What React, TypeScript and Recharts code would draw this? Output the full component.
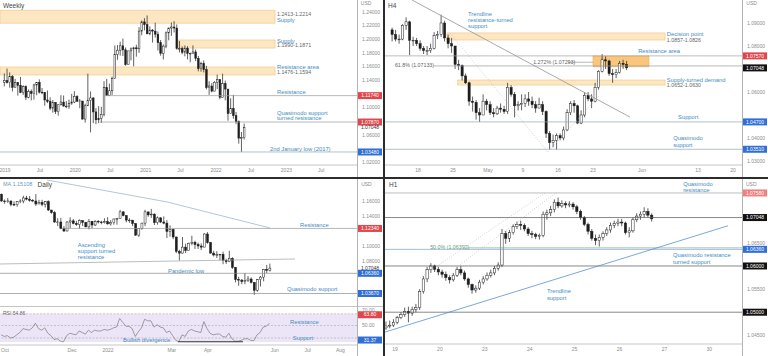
import React from 'react';
import { ComposedChart, Bar, Line, XAxis, YAxis, ReferenceLine, ReferenceArea, ReferenceDot } from 'recharts';

const FONT = '"Liberation Sans", Arial, sans-serif';
const TEAL = '#3f8cc2';
const NUM = '#666';
const AXIS = '#8c8c8c';
const RED = '#e0474c';
const BLUE = '#2f6fd6';
const ZONE = '#fde6c2';
const ZONE_EDGE = '#f1c27c';

// ---- Weekly (2-week candles, Dec 2018 - May 2022)
const wClose = [1.1395,1.1365,1.1455,1.1295,1.1365,1.1325,1.1220,1.1305,1.1150,1.1235,1.1205,1.1330,1.1370,1.1225,1.1220,1.1110,1.1090,1.0990,1.1075,1.0940,1.1040,1.1080,1.1020,1.1020,1.1060,1.1080,1.1160,1.1090,1.1095,1.0830,1.1025,1.1105,1.1140,1.0935,1.0820,1.0840,1.0900,1.1290,1.1175,1.1245,1.1425,1.1780,1.1840,1.1905,1.1845,1.1630,1.1830,1.1860,1.1875,1.1860,1.2120,1.2255,1.2215,1.2080,1.2135,1.2120,1.2075,1.1950,1.1795,1.1900,1.2095,1.2165,1.2180,1.2165,1.1865,1.1865,1.1810,1.1870,1.1795,1.1795,1.1815,1.1720,1.1570,1.1645,1.1555,1.1290,1.1315,1.1240,1.1370,1.1410,1.1150,1.1350,1.1270,1.0910,1.0985,1.0880,1.0795,1.0550,1.0560,1.0705];
const wHigh = [1.1500,1.1570,1.1515,1.1475,1.1420,1.1340,1.1448,1.1325,1.1325,1.1265,1.1265,1.1350,1.1375,1.1412,1.1285,1.1225,1.1250,1.1150,1.1110,1.1075,1.1045,1.1180,1.1175,1.1095,1.1115,1.1200,1.1240,1.1180,1.1125,1.1095,1.1055,1.1495,1.1235,1.1150,1.0990,1.1020,1.1010,1.1385,1.1420,1.1350,1.1455,1.1910,1.1915,1.1965,1.2011,1.1880,1.1830,1.1880,1.1890,1.1920,1.2178,1.2275,1.2310,1.2349,1.2190,1.2150,1.2243,1.2115,1.1990,1.1925,1.2115,1.2170,1.2245,1.2266,1.2218,1.1975,1.1895,1.1910,1.1900,1.1805,1.1910,1.1850,1.1755,1.1670,1.1690,1.1610,1.1385,1.1360,1.1385,1.1482,1.1370,1.1495,1.1395,1.1230,1.1135,1.1185,1.0935,1.0810,1.0642,1.0765];
const wLow = [1.1310,1.1350,1.1290,1.1235,1.1310,1.1175,1.1210,1.1185,1.1110,1.1135,1.1105,1.1115,1.1180,1.1205,1.1195,1.1027,1.1065,1.0960,1.0925,1.0905,1.0880,1.1030,1.1015,1.0990,1.0980,1.1040,1.1065,1.1085,1.0990,1.0825,1.0778,1.1055,1.0636,1.0770,1.0755,1.0770,1.0775,1.0870,1.1170,1.1170,1.1185,1.1420,1.1700,1.1760,1.1755,1.1612,1.1640,1.1690,1.1603,1.1745,1.1800,1.2060,1.2130,1.2075,1.2060,1.1952,1.2025,1.1835,1.1760,1.1704,1.1870,1.1985,1.2050,1.2100,1.1847,1.1807,1.1780,1.1750,1.1705,1.1664,1.1800,1.1680,1.1530,1.1525,1.1515,1.1265,1.1186,1.1222,1.1270,1.1270,1.1120,1.1185,1.1105,1.0806,1.0940,1.0835,1.0757,1.0470,1.0349,1.0530];
const wTickPos = [0.57, 13.5, 26.64, 39.6, 52.8, 65.7, 78.9, 91.8, 105, 117.9];
const wTickLabels = ['2019', 'Jul', '2020', 'Jul', '2021', 'Jul', '2022', 'Jul', '2023', 'Jul'];
const wPriceTicks = [1.24, 1.22, 1.2, 1.18, 1.16, 1.14, 1.1, 1.06, 1.02];

// ---- H4 (half-day candles, Apr 12 - May 27)
const h4Close = [1.0850,1.0830,1.0830,1.0890,1.0905,1.0825,1.0825,1.0810,1.0790,1.0780,1.0780,1.0790,1.0845,1.0850,1.0900,1.0835,1.0810,1.0800,1.0720,1.0715,1.0670,1.0640,1.0560,1.0555,1.0510,1.0500,1.0560,1.0545,1.0510,1.0505,1.0530,1.0525,1.0515,1.0620,1.0590,1.0540,1.0545,1.0550,1.0570,1.0560,1.0545,1.0530,1.0545,1.0515,1.0420,1.0380,1.0390,1.0410,1.0400,1.0435,1.0510,1.0550,1.0540,1.0465,1.0500,1.0585,1.0570,1.0560,1.0620,1.0690,1.0740,1.0735,1.0680,1.0675,1.0685,1.0725,1.0720,1.0705];
const h4High = [1.0880,1.0870,1.0850,1.0895,1.0925,1.0910,1.0840,1.0835,1.0825,1.0800,1.0800,1.0810,1.0860,1.0865,1.0936,1.0910,1.0850,1.0835,1.0800,1.0740,1.0720,1.0680,1.0645,1.0580,1.0565,1.0530,1.0590,1.0570,1.0560,1.0530,1.0540,1.0550,1.0540,1.0640,1.0630,1.0600,1.0560,1.0590,1.0590,1.0600,1.0580,1.0560,1.0575,1.0560,1.0520,1.0430,1.0415,1.0420,1.0420,1.0450,1.0525,1.0560,1.0565,1.0545,1.0520,1.0600,1.0600,1.0590,1.0640,1.0695,1.0765,1.0755,1.0740,1.0700,1.0700,1.0735,1.0740,1.0735];
const h4Low = [1.0820,1.0820,1.0810,1.0825,1.0870,1.0760,1.0800,1.0800,1.0780,1.0765,1.0760,1.0770,1.0785,1.0830,1.0840,1.0820,1.0790,1.0770,1.0700,1.0695,1.0650,1.0635,1.0540,1.0515,1.0480,1.0470,1.0500,1.0520,1.0500,1.0490,1.0500,1.0510,1.0505,1.0505,1.0580,1.0490,1.0520,1.0520,1.0535,1.0540,1.0530,1.0510,1.0530,1.0500,1.0400,1.0350,1.0360,1.0349,1.0390,1.0390,1.0430,1.0500,1.0510,1.0460,1.0460,1.0490,1.0560,1.0530,1.0555,1.0610,1.0685,1.0700,1.0670,1.0640,1.0660,1.0680,1.0700,1.0695];
const h4TickPos = [8, 18, 28, 38, 48, 58, 72, 88, 98];
const h4TickLabels = ['18', '25', 'May', '9', '16', '23', 'Jun', '13', '20'];
const h4PriceTicks = [1.09, 1.08, 1.06, 1.04, 1.03];

// ---- Daily (2-day candles, Sep 28 2021 - May 27 2022) + RSI
const dClose = [1.1600,1.1595,1.1600,1.1555,1.1550,1.1595,1.1600,1.1640,1.1625,1.1610,1.1600,1.1560,1.1580,1.1555,1.1590,1.1480,1.1445,1.1320,1.1320,1.1235,1.1200,1.1320,1.1335,1.1300,1.1285,1.1340,1.1315,1.1255,1.1330,1.1280,1.1330,1.1320,1.1310,1.1325,1.1295,1.1310,1.1360,1.1365,1.1455,1.1405,1.1345,1.1345,1.1300,1.1145,1.1235,1.1305,1.1455,1.1415,1.1425,1.1310,1.1375,1.1320,1.1305,1.1195,1.1220,1.1120,1.0930,1.0905,1.0985,1.0940,1.1035,1.1050,1.1020,1.1000,1.0985,1.1160,1.1045,1.0905,1.0880,1.0885,1.0890,1.0810,1.0790,1.0835,1.0715,1.0555,1.0545,1.0525,1.0540,1.0560,1.0515,1.0410,1.0550,1.0585,1.0690,1.0675,1.0705];
const dHigh = [1.1700,1.1620,1.1640,1.1605,1.1595,1.1600,1.1624,1.1670,1.1668,1.1665,1.1625,1.1692,1.1615,1.1616,1.1600,1.1610,1.1480,1.1465,1.1370,1.1375,1.1265,1.1330,1.1383,1.1360,1.1335,1.1355,1.1340,1.1320,1.1360,1.1330,1.1345,1.1345,1.1335,1.1369,1.1385,1.1346,1.1365,1.1375,1.1482,1.1465,1.1410,1.1370,1.1345,1.1295,1.1240,1.1310,1.1483,1.1450,1.1495,1.1435,1.1395,1.1385,1.1395,1.1345,1.1275,1.1230,1.1125,1.0950,1.1120,1.1030,1.1045,1.1137,1.1070,1.1045,1.1035,1.1170,1.1185,1.1055,1.0935,1.0930,1.0895,1.0925,1.0830,1.0936,1.0850,1.0720,1.0590,1.0560,1.0640,1.0600,1.0580,1.0520,1.0560,1.0600,1.0695,1.0748,1.0765];
const dLow = [1.1590,1.1563,1.1575,1.1529,1.1535,1.1524,1.1570,1.1570,1.1610,1.1590,1.1585,1.1535,1.1560,1.1530,1.1513,1.1465,1.1430,1.1310,1.1265,1.1225,1.1186,1.1195,1.1235,1.1290,1.1270,1.1230,1.1265,1.1250,1.1222,1.1235,1.1265,1.1300,1.1290,1.1300,1.1285,1.1272,1.1285,1.1285,1.1360,1.1395,1.1315,1.1310,1.1265,1.1135,1.1121,1.1215,1.1265,1.1390,1.1375,1.1280,1.1285,1.1305,1.1290,1.1106,1.1125,1.1090,1.0905,1.0806,1.0900,1.0905,1.0945,1.1010,1.0960,1.0960,1.0945,1.0985,1.1030,1.0900,1.0860,1.0840,1.0810,1.0757,1.0760,1.0785,1.0695,1.0515,1.0470,1.0490,1.0490,1.0520,1.0500,1.0349,1.0390,1.0460,1.0530,1.0640,1.0660];
const dRsi = [38,36,37,34,35,38,41,46,45,44,47,53,46,44,47,40,37,32,33,30,29,37,40,39,38,43,41,39,44,41,44,43,43,45,44,45,47,48,59,54,49,49,46,36,42,47,58,56,56,48,51,48,47,41,43,37,31,29.5,38,36,43,45,43,42,41,55,46,40,38,39,39,36,35,40,33,29.8,30,31,33,33,31,30.5,38,41,48,49,53];
const dTickPos = [1.75, 23.25, 34.75, 55.25, 66.75, 88.25, 98.75, 109.25];
const dTickLabels = ['Oct', 'Dec', '2022', 'Mar', 'Apr', 'Jun', 'Jul', 'Aug'];
const dPriceTicks = [1.16, 1.14, 1.1, 1.08];
const rsiTicks = [70, 50];

// ---- H1 (2-hour candles, May 18 18:00 - May 26)
const h1Close = [1.0470,1.0472,1.0478,1.0488,1.0495,1.0502,1.0498,1.0506,1.0510,1.0545,1.0572,1.0592,1.0600,1.0593,1.0587,1.0582,1.0575,1.0570,1.0580,1.0592,1.0585,1.0572,1.0560,1.0548,1.0552,1.0565,1.0572,1.0580,1.0585,1.0595,1.0602,1.0670,1.0660,1.0672,1.0685,1.0690,1.0688,1.0680,1.0670,1.0668,1.0664,1.0666,1.0712,1.0715,1.0722,1.0738,1.0730,1.0735,1.0732,1.0734,1.0728,1.0718,1.0705,1.0690,1.0675,1.0660,1.0655,1.0662,1.0670,1.0678,1.0688,1.0692,1.0695,1.0693,1.0672,1.0676,1.0700,1.0708,1.0712,1.0718,1.0710,1.0702];
const h1High = [1.0480,1.0482,1.0485,1.0492,1.0500,1.0510,1.0512,1.0512,1.0518,1.0550,1.0578,1.0598,1.0606,1.0603,1.0598,1.0592,1.0588,1.0580,1.0585,1.0598,1.0600,1.0590,1.0575,1.0562,1.0558,1.0570,1.0578,1.0586,1.0592,1.0600,1.0608,1.0680,1.0676,1.0678,1.0690,1.0696,1.0698,1.0692,1.0684,1.0676,1.0672,1.0670,1.0718,1.0722,1.0730,1.0744,1.0748,1.0742,1.0740,1.0740,1.0738,1.0732,1.0722,1.0708,1.0694,1.0680,1.0668,1.0668,1.0675,1.0684,1.0694,1.0698,1.0702,1.0702,1.0696,1.0684,1.0705,1.0714,1.0718,1.0727,1.0725,1.0714];
const h1Low = [1.0462,1.0465,1.0468,1.0474,1.0485,1.0490,1.0478,1.0492,1.0500,1.0505,1.0540,1.0565,1.0585,1.0587,1.0580,1.0575,1.0568,1.0562,1.0566,1.0576,1.0580,1.0568,1.0553,1.0540,1.0542,1.0548,1.0560,1.0568,1.0575,1.0580,1.0590,1.0598,1.0648,1.0652,1.0668,1.0680,1.0678,1.0675,1.0665,1.0660,1.0658,1.0657,1.0662,1.0700,1.0708,1.0716,1.0725,1.0726,1.0725,1.0727,1.0722,1.0712,1.0700,1.0686,1.0668,1.0655,1.0645,1.0642,1.0655,1.0665,1.0672,1.0682,1.0686,1.0686,1.0668,1.0662,1.0672,1.0695,1.0700,1.0705,1.0705,1.0696];
const h1TickPos = [0, 12, 24, 36, 48, 60, 72, 84];
const h1TickLabels = ['19', '20', '23', '24', '25', '26', '27', '30'];
const h1PriceTicks = [1.065, 1.055, 1.045];

function buildCandles(close: number[], high: number[], low: number[], firstOpen: number, start: number) {
  return close.map((c, i) => {
    const o = i === 0 ? firstOpen : close[i - 1];
    const h = Math.max(high[i], o, c);
    const l = Math.min(low[i], o, c);
    return { x: start + i + 0.5, o, h, l, c, range: [l, h] };
  });
}

const weekly = buildCandles(wClose, wHigh, wLow, 1.137, 0);
const h4 = buildCandles(h4Close, h4High, h4Low, 1.087, 0);
const daily = buildCandles(dClose, dHigh, dLow, 1.169, 0).map((d, i) => ({ ...d, rsi: dRsi[i] }));
const h1 = buildCandles(h1Close, h1High, h1Low, 1.0466, -3);

function CandleShape(props: any) {
  const { x, y, width, height, payload } = props;
  if (!payload || x == null || y == null) return null;
  const top = Math.min(y, y + height);
  const span = Math.abs(height);
  const { o, h, l, c } = payload;
  const k = h > l ? span / (h - l) : 0;
  const yo = top + (h - o) * k;
  const yc = top + (h - c) * k;
  const cx = x + width / 2;
  const up = c >= o;
  return (
    <g>
      <line x1={cx} x2={cx} y1={top} y2={top + span} stroke="#1e1e1e" strokeWidth={0.7} />
      <rect x={x} y={Math.min(yo, yc)} width={width} height={Math.max(Math.abs(yc - yo), 0.7)}
        fill={up ? '#ffffff' : '#1e1e1e'} stroke="#1e1e1e" strokeWidth={0.5} />
    </g>
  );
}

// price tag drawn on the right axis
function tag(value: number, text: string, bg: string, fg = '#fff') {
  const content = (p: any) => {
    const vb = p.viewBox || {};
    const x = (vb.x ?? 0) + (vb.width ?? 0) + 1;
    const y = vb.y ?? 0;
    return (
      <g>
        {bg !== 'none' && <rect x={x} y={y - 3.5} width={24} height={7} fill={bg} />}
        <text x={x + 12} y={y + 0.3} textAnchor="middle" dominantBaseline="middle" fontSize={5} fill={fg} fontFamily={FONT}>{text}</text>
      </g>
    );
  };
  return <ReferenceLine y={value} stroke="none" ifOverflow="visible" label={content} />;
}

function hline(value: number, color: string, w = 0.7, dash?: string) {
  return <ReferenceLine y={value} stroke={color} strokeWidth={w} strokeDasharray={dash} ifOverflow="visible" />;
}

function seg(x1: number, y1: number, x2: number, y2: number, color: string, w = 0.7, dash?: string) {
  return <ReferenceLine segment={[{ x: x1, y: y1 }, { x: x2, y: y2 }]} stroke={color} strokeWidth={w} strokeDasharray={dash} ifOverflow="visible" />;
}

function zone(x1: number, x2: number, y1: number, y2: number, fill = ZONE, stroke = ZONE_EDGE) {
  return <ReferenceArea x1={x1} x2={x2} y1={y1} y2={y2} fill={fill} fillOpacity={1} stroke={stroke} strokeWidth={0.6} ifOverflow="visible" />;
}

function note(x: number, y: number, text: string, color = TEAL, size = 5.8) {
  return (
    <ReferenceDot x={x} y={y} r={0} ifOverflow="visible"
      shape={(p: any) => (
        <text x={p.cx} y={p.cy} fontSize={size} fill={color} fontFamily={FONT} dominantBaseline="middle">{text}</text>
      )} />
  );
}

function PriceChart(props: any) {
  const { data, xDomain, yDomain, xTicks, xLabels, yTicks, barSize, height, showX = true, children, overlay } = props;
  return (
    <ComposedChart width={383} height={height} data={data} margin={{ top: 0, right: 0, bottom: 0, left: 0 }}>
      <XAxis type="number" dataKey="x" domain={xDomain} allowDataOverflow ticks={xTicks} interval={0}
        hide={!showX} height={showX ? 12 : 0}
        tickFormatter={(v: number) => xLabels[xTicks.indexOf(v)] ?? ''}
        tick={{ fontSize: 5, fill: AXIS, fontFamily: FONT }} tickLine={false} tickSize={2} tickMargin={1}
        axisLine={{ stroke: '#b8b8b8', strokeWidth: 0.8 }} />
      <YAxis orientation="right" type="number" domain={yDomain} allowDataOverflow ticks={yTicks} interval={0}
        width={26} tickFormatter={(v: number) => v.toFixed(5)}
        tick={{ fontSize: 5, fill: AXIS, fontFamily: FONT }} tickLine={false} tickSize={0} tickMargin={5} axisLine={false} />
      {children}
      <Bar dataKey="range" shape={CandleShape} barSize={barSize} isAnimationActive={false} />
      {overlay}
    </ComposedChart>
  );
}

const axisBar = <div style={{ position: 'absolute', left: 357, top: 0, width: 1, bottom: 0, background: '#b3b3b3' }} />;

function Weekly() {
  return (
    <PriceChart data={weekly} height={177} xDomain={[-1.29, 131.2]} yDomain={[1.0157, 1.2576]}
      xTicks={wTickPos} xLabels={wTickLabels} yTicks={wPriceTicks} barSize={1.7}
      overlay={<>
        {note(-0.18, 1.2488, 'Weekly', '#444', 6.5)}
        {note(101.5, 1.2363, '1.2413-1.2214', NUM, 5.3)}
        {note(101.5, 1.2275, 'Supply')}
        {note(101.5, 1.1975, 'Supply')}
        {note(101.5, 1.1902, '1.1990-1.1871', NUM, 5.3)}
        {note(101.5, 1.1586, 'Resistance area')}
        {note(101.5, 1.1506, '1.1476-1.1594', NUM, 5.3)}
        {note(101.5, 1.1227, 'Resistance')}
        {note(101.5, 1.0919, 'Quasimodo support')}
        {note(101.5, 1.0839, 'turned resistance')}
        {note(98.9, 1.0392, '2nd January low (2017)')}
        {note(132.6, 1.2517, 'USD', AXIS, 5)}
        {tag(1.1174, '1.11740', RED)}
        {tag(1.0787, '1.07870', RED)}
        {tag(1.07048, '1.07048', 'none', '#333')}
        {tag(1.0348, '1.03480', BLUE)}
      </>}>
      {zone(-1.29, 100.8, 1.2235, 1.2425)}
      {zone(64.8, 100.8, 1.1871, 1.1990)}
      {zone(-1.29, 100.8, 1.1476, 1.1594)}
      {seg(37.7, 1.1174, 131.2, 1.1174, '#9a9a9a')}
      {seg(35.8, 1.0787, 131.2, 1.0787, '#9a9a9a')}
      {hline(1.0348, '#8fa6b8')}
    </PriceChart>
  );
}

function H4() {
  return (
    <PriceChart data={h4} height={177} xDomain={[-1.43, 100.57]} yDomain={[1.02826, 1.1]}
      xTicks={h4TickPos} xLabels={h4TickLabels} yTicks={h4PriceTicks} barSize={2.2}
      overlay={<>
        {note(-0.57, 1.0974, 'H4', '#444', 6.5)}
        {note(22.3, 1.0939, 'Trendline')}
        {note(22.3, 1.0913, 'resistance-turned')}
        {note(22.3, 1.0887, 'support')}
        {note(79.1, 1.0848, 'Decision point')}
        {note(79.1, 1.0824, '1.0857-1.0826', NUM, 5.3)}
        {note(70.9, 1.0778, 'Resistance area')}
        {note(40.9, 1.07293, '1.272% (1.07293)', NUM, 5.3)}
        {note(1.4, 1.07133, '61.8% (1.07133)', NUM, 5.3)}
        {note(79.1, 1.0650, 'Supply-turned demand')}
        {note(79.1, 1.0626, '1.0652-1.0630', NUM, 5.3)}
        {note(82.3, 1.0491, 'Support')}
        {note(80.9, 1.0400, 'Quasimodo')}
        {note(80.9, 1.0369, 'support')}
        {note(101.8, 1.0983, 'USD', AXIS, 5)}
        {tag(1.0757, '1.07570', RED)}
        {tag(1.07048, '1.07048', '#111')}
        {tag(1.047, '1.04700', BLUE)}
        {tag(1.0351, '1.03510', BLUE)}
      </>}>
      {zone(16.3, 78.6, 1.0826, 1.0857)}
      {zone(19.3, 78.6, 1.0630, 1.0652)}
      {zone(58, 74, 1.0710, 1.0757, '#f9c67c', '#f0b050')}
      {hline(1.0757, '#a0a0a0')}
      {seg(12.5, 1.07133, 100.57, 1.07133, '#9a9a9a')}
      {seg(50.8, 1.07293, 58, 1.07293, '#9a9a9a')}
      {seg(6.28, 1.1, 68.57, 1.0491, '#9aa0a8', 0.9)}
      {seg(17.1, 1.0857, 45.1, 1.0339, '#b5b5b5', 0.6, '1 1.5')}
      {seg(45.1, 1.0339, 60, 1.0587, '#b5b5b5', 0.6, '1 1.5')}
      {hline(1.047, '#8fa6b8')}
      {hline(1.0351, '#8fa6b8')}
    </PriceChart>
  );
}

function Daily() {
  return (
    <div>
      <PriceChart data={daily} height={127} showX={false} xDomain={[0.15, 114.57]} yDomain={[1.02, 1.18933]}
        xTicks={dTickPos} xLabels={dTickLabels} yTicks={dPriceTicks} barSize={2}
        overlay={<>
          {note(1.1, 1.1813, 'MA 1.15108', '#6f98bf', 5.5)}
          {note(12.2, 1.1813, 'Daily', '#444', 6.5)}
          {note(96.3, 1.128, 'Resistance')}
          {note(25.1, 1.1013, 'Ascending')}
          {note(25.1, 1.0933, 'support turned')}
          {note(25.1, 1.0853, 'resistance')}
          {note(54, 1.0667, 'Pandemic low')}
          {note(92.1, 1.0427, 'Quasimodo support')}
          {note(115.9, 1.1813, 'USD', AXIS, 5)}
          {tag(1.1234, '1.12340', RED)}
          {tag(1.07048, '1.07048', 'none', '#333')}
          {tag(1.0636, '1.06360', BLUE)}
          {tag(1.0367, '1.03670', BLUE)}
        </>}>
        {seg(15.2, 1.188, 53.7, 1.1587, '#a9bfd6', 0.9)}
        {seg(53.7, 1.1587, 86.7, 1.124, '#a9bfd6', 0.9)}
        {seg(20.3, 1.1234, 114.57, 1.1234, '#9a9a9a')}
        {seg(0.15, 1.076, 94.7, 1.0827, '#a0a0a0')}
        {hline(1.0636, '#8a8a8a')}
        {hline(1.0367, '#8a8a8a')}
      </PriceChart>
      <div style={{ borderTop: '1px solid #c4c4c4' }}>
        <ComposedChart width={383} height={49} data={daily} margin={{ top: 0, right: 0, bottom: 0, left: 0 }}>
          <XAxis type="number" dataKey="x" domain={[0.15, 114.57]} allowDataOverflow ticks={dTickPos} interval={0} height={11}
            tickFormatter={(v: number) => dTickLabels[dTickPos.indexOf(v)] ?? ''}
            tick={{ fontSize: 5, fill: AXIS, fontFamily: FONT }} tickLine={false} tickSize={2} tickMargin={1}
            axisLine={{ stroke: '#b8b8b8', strokeWidth: 0.8 }} />
          <YAxis orientation="right" type="number" domain={[25, 73.75]} allowDataOverflow ticks={rsiTicks} interval={0}
            width={26} tickFormatter={(v: number) => v.toFixed(2)}
            tick={{ fontSize: 5, fill: AXIS, fontFamily: FONT }} tickLine={false} tickSize={0} tickMargin={5} axisLine={false} />
          <ReferenceArea y1={28.8} y2={65} fill="#ece5f7" fillOpacity={1} stroke="none" />
          {hline(65, '#d49a9a', 0.6, '2 1.5')}
          {hline(50, '#a8a8a8', 0.6, '2 1.5')}
          {hline(34, '#a8a8a8', 0.6, '2 1.5')}
          <Line dataKey="rsi" type="linear" dot={false} stroke="#7a7a7a" strokeWidth={0.7} isAnimationActive={false} />
          {seg(57.2, 29.2, 78, 29.2, '#333', 1.2)}
          {note(1.1, 65, 'RSI 54.86', '#666', 5)}
          {note(93.1, 54.4, 'Resistance')}
          {note(94, 33.75, 'Support')}
          {note(39.6, 31.25, 'Bullish divergence')}
          {tag(63.8, '63.80', RED)}
          {tag(31.37, '31.37', BLUE)}
        </ComposedChart>
      </div>
    </div>
  );
}

function H1() {
  return (
    <PriceChart data={h1} height={177} xDomain={[-2.67, 92.73]} yDomain={[1.04312, 1.07882]}
      xTicks={h1TickPos} xLabels={h1TickLabels} yTicks={h1PriceTicks} barSize={2.4}
      overlay={<>
        {note(-1.6, 1.07753, 'H1', '#444', 6.5)}
        {note(77, 1.07774, 'Quasimodo')}
        {note(77, 1.07634, 'resistance')}
        {note(9.4, 1.06392, '50.0% (1.06392)', '#6a9a72', 5.3)}
        {note(74.3, 1.06226, 'Quasimodo resistance')}
        {note(74.3, 1.06086, 'turned support')}
        {note(40.6, 1.05452, 'Trendline')}
        {note(40.6, 1.05301, 'support')}
        {note(93.8, 1.07753, 'USD', AXIS, 5)}
        {tag(1.0758, '1.07580', '#f08080')}
        {tag(1.07048, '1.07048', '#111')}
        {tag(1.0636, '1.06360', BLUE)}
        {tag(1.06, '1.06000', '#111')}
        {tag(1.05, '1.05000', '#111')}
      </>}>
      {hline(1.0758, '#a0a0a0')}
      {hline(1.07048, '#555')}
      {seg(19.2, 1.06392, 92.73, 1.06392, '#7fae86')}
      {hline(1.0636, '#6f9fd0')}
      {hline(1.06, '#555')}
      {hline(1.05, '#555')}
      {seg(-2.67, 1.0457, 89, 1.0687, '#5b8fd0', 0.8)}
      {seg(6.7, 1.0575, 40.1, 1.0758, '#b5b5b5', 0.6, '1 1.5')}
      {seg(17.4, 1.0603, 43.3, 1.076, '#b5b5b5', 0.6, '1 1.5')}
    </PriceChart>
  );
}

export default function App() {
  const panel = (left: number, top: number, content: React.ReactNode) => (
    <div style={{ position: 'absolute', left, top, width: 383, height: 177, background: '#fff', overflow: 'hidden' }}>
      {content}
      {axisBar}
    </div>
  );
  return (
    <div style={{ position: 'absolute', left: 0, top: 0, width: 768, height: 356, background: '#2c2c2c', fontFamily: FONT, overflow: 'hidden' }}>
      {panel(0, 0, <Weekly />)}
      {panel(385, 0, <H4 />)}
      {panel(0, 179, <Daily />)}
      {panel(385, 179, <H1 />)}
    </div>
  );
}
